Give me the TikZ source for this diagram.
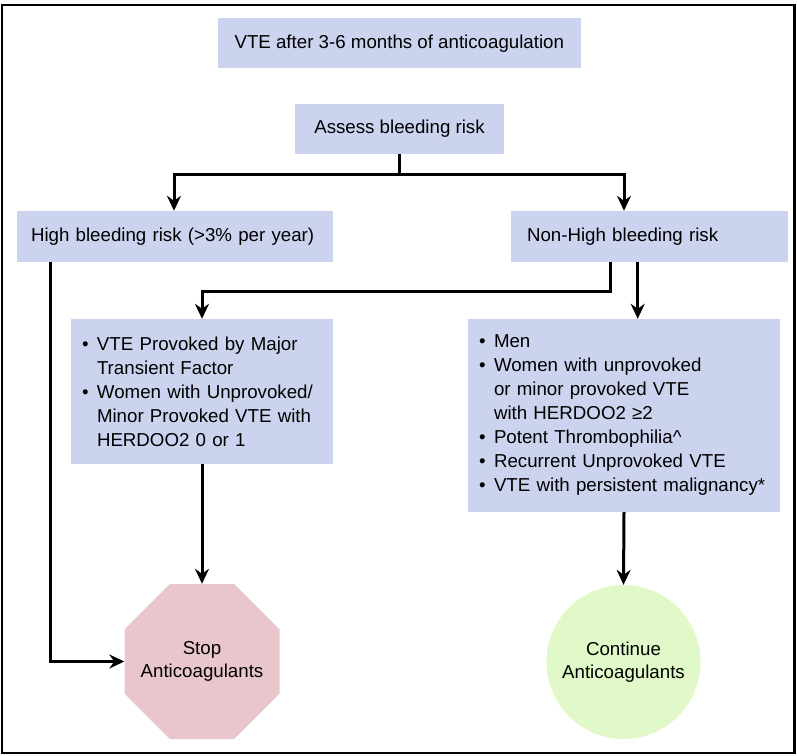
\documentclass[tikz,border=0pt]{standalone}
\usepackage{fontspec}
\setmainfont{Liberation Sans}
\usetikzlibrary{arrows.meta,shapes.geometric}
\definecolor{boxc}{RGB}{204,211,238}
\definecolor{stopc}{RGB}{233,197,204}
\definecolor{goc}{RGB}{225,249,200}
\newcommand\itm[1]{\mbox{\makebox[15pt][l]{\textbullet}#1}}
\newcommand\ind[1]{\mbox{\hspace*{15pt}#1}}
\begin{document}
\begin{tikzpicture}[x=1pt,y=-1pt,
  box/.style={fill=boxc, inner sep=0pt, font=\fontsize{18.7}{24}\selectfont},
  listbox/.style={box, align=left, inner xsep=11pt},
  arr/.style={line width=3pt, -{Stealth[length=15pt,width=14pt,inset=5pt]}},
  conn/.style={line width=3pt},
  frame/.style={line width=2.2pt},
  octagon/.style={minimum width=155pt, minimum height=155pt, inner sep=0pt,
    path picture={\fill[stopc]
      ([shift={(-32.1,-77.5)}]path picture bounding box.center) --
      ([shift={(32.1,-77.5)}]path picture bounding box.center) --
      ([shift={(77.5,-32.1)}]path picture bounding box.center) --
      ([shift={(77.5,32.1)}]path picture bounding box.center) --
      ([shift={(32.1,77.5)}]path picture bounding box.center) --
      ([shift={(-32.1,77.5)}]path picture bounding box.center) --
      ([shift={(-77.5,32.1)}]path picture bounding box.center) --
      ([shift={(-77.5,-32.1)}]path picture bounding box.center) -- cycle;}}]
\useasboundingbox (0,0) rectangle (797,755);
\draw[frame] (1.7,4.9) rectangle (794.5,753);

\node[box, minimum width=363pt, minimum height=50pt] (top) at (399.3,43.3)
  {VTE after 3-6 months of anticoagulation};
\node[box, minimum width=209pt, minimum height=50pt] (assess) at (399.5,129)
  {Assess bleeding risk};
\node[box, text width=288pt, inner xsep=14pt, align=left, minimum height=51pt] (high) at (175,236.5)
  {High bleeding risk (>3\% per year)};
\node[box, text width=245pt, inner xsep=16pt, align=left, minimum height=51pt] (nonhigh) at (649.5,236.5)
  {Non-High bleeding risk};

\node[listbox, text width=240pt, minimum height=145pt] (leftlist) at (202,391.5)
  {\itm{VTE Provoked by Major}\\
   \ind{Transient Factor}\\
   \itm{Women with Unprovoked/}\\
   \ind{Minor Provoked VTE with}\\
   \ind{HERDOO2 0 or 1}};
\node[listbox, text width=290pt, minimum height=193pt] (rightlist) at (624,415.5)
  {\itm{Men}\\
   \itm{Women with unprovoked}\\
   \ind{or minor provoked VTE}\\
   \ind{with HERDOO2 ≥2}\\
   \itm{Potent Thrombophilia\^{}}\\
   \itm{Recurrent Unprovoked VTE}\\
   \itm{VTE with persistent malignancy*}};

\node[octagon, align=center, font=\fontsize{18.7}{23}\selectfont] (stop) at (202,661.5)
  {Stop\\Anticoagulants};
\node[circle, fill=goc, inner sep=0pt, minimum size=154pt, align=center,
  font=\fontsize{18.7}{23}\selectfont] (cont) at (623.5,662)
  {Continue\\Anticoagulants};

% connectors
\draw[conn] (assess.south) -- ++(0,20) coordinate (j);
\draw[arr] (j) -| ([xshift=-1pt]high.north);
\draw[arr] (j) -| (rightlist.north |- nonhigh.north);
\draw[arr] ([xshift=-124.3pt]high.south) |- (stop.west);
\draw[arr] ([xshift=-39.5pt]nonhigh.south) -- ++(0,29) -| (leftlist.north);
\draw[arr] ([xshift=-11.8pt]nonhigh.south) -- ([xshift=-11.8pt]nonhigh.south |- rightlist.north);
\draw[arr] (leftlist.south) -- (stop.north);
\draw[arr] (rightlist.south) -- (cont.north);
\end{tikzpicture}
\end{document}
